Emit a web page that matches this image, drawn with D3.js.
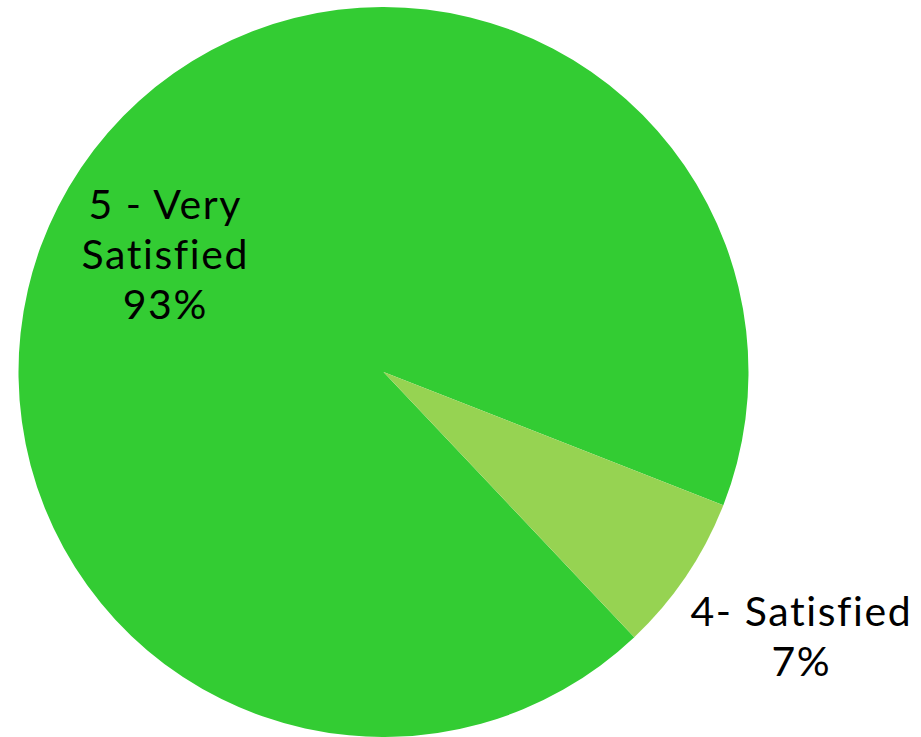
<!DOCTYPE html>
<html>
<head>
<meta charset="utf-8">
<script src="https://cdn.jsdelivr.net/npm/d3@7"></script>
<style>
  html, body { margin: 0; padding: 0; background: #fff; }
  svg { display: block; }
</style>
</head>
<body>
<svg id="chart" width="921" height="737"></svg>
<script>
// Satisfaction ratings
const categories = ["5 - Very Satisfied", "4- Satisfied"];
const values = [93, 7];
const labelLines = [["5 - Very", "Satisfied", "93%"], ["4- Satisfied", "7%"]];
const colors = ["#33cc33", "#96d352"];

const width = 921, height = 737;
const cx = 383.5, cy = 372, radius = 365;

const svg = d3.select("#chart");
const g = svg.append("g").attr("transform", `translate(${cx},${cy})`);

const deg = Math.PI / 180;
const start = 136.6 * deg;
const pie = d3.pie().sort(null).startAngle(start).endAngle(start + 2 * Math.PI);
const arcs = pie(values);

const arc = d3.arc().innerRadius(0).outerRadius(radius);

g.selectAll("path.slice")
  .data(arcs)
  .join("path")
  .attr("class", "slice")
  .attr("d", arc)
  .attr("fill", (d, i) => colors[i]);

// label placement: inside for the large slice, outside for the small one
const labelRadius = [250, 498];
const labelNudge = [[-11, 22], [5, -14]];
const fontSize = 41, lineH = 50;

arcs.forEach((d, i) => {
  const mid = (d.startAngle + d.endAngle) / 2;
  const x = Math.sin(mid) * labelRadius[i] + labelNudge[i][0];
  const y = -Math.cos(mid) * labelRadius[i] + labelNudge[i][1];
  const lines = labelLines[i];
  const t = g.append("text")
    .attr("text-anchor", "middle")
    .attr("font-family", "'Century Gothic', 'URW Gothic', 'Lato', sans-serif")
    .attr("font-size", fontSize)
    .attr("letter-spacing", 1.6)
    .attr("fill", "#000");
  const top = y - (lines.length - 1) * lineH / 2 + fontSize * 0.35;
  lines.forEach((ln, k) => {
    t.append("tspan").attr("x", x).attr("y", top + k * lineH).text(ln);
  });
});
</script>
</body>
</html>
